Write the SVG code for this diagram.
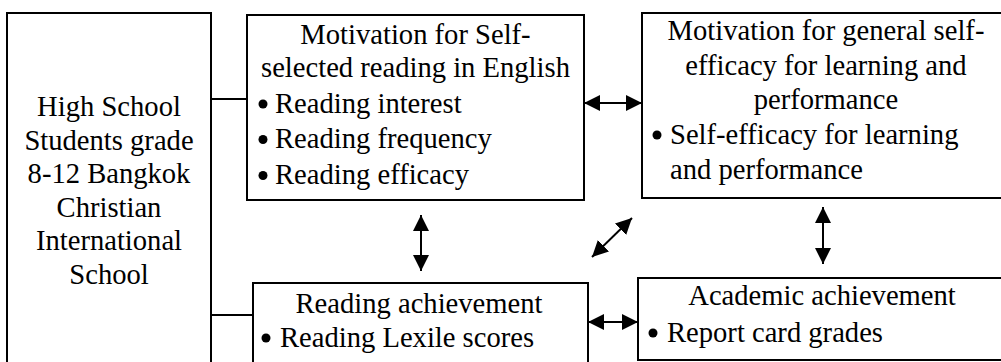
<svg xmlns="http://www.w3.org/2000/svg" width="1001" height="362" viewBox="0 0 1001 362">
<defs>
  <marker id="ah" markerUnits="userSpaceOnUse" markerWidth="18" markerHeight="18" refX="16" refY="9" orient="auto-start-reverse" viewBox="0 0 18 18">
    <path d="M0,1 L16,9 L0,17 z" fill="#000"/>
  </marker>
</defs>
<rect width="1001" height="362" fill="#fff"/>

<g id="connectors" stroke="#000" stroke-width="2" fill="none">
  <line x1="211" y1="99" x2="247" y2="99"/>
  <line x1="211" y1="315" x2="253" y2="315"/>
  <line x1="584" y1="103" x2="642" y2="103" marker-start="url(#ah)" marker-end="url(#ah)"/>
  <line x1="421" y1="215" x2="421" y2="271" marker-start="url(#ah)" marker-end="url(#ah)"/>
  <line x1="592" y1="257" x2="632" y2="218" marker-start="url(#ah)" marker-end="url(#ah)"/>
  <line x1="823" y1="207" x2="823" y2="264" marker-start="url(#ah)" marker-end="url(#ah)"/>
  <line x1="588" y1="322" x2="638" y2="322" marker-start="url(#ah)" marker-end="url(#ah)"/>
</g>

<g id="students">
  <rect x="7" y="13" width="204" height="360" fill="#fff" stroke="#000" stroke-width="2"/>
  <text font-family="Liberation Serif" font-size="28.6" text-anchor="middle" x="109" y="116">High School</text>
  <text font-family="Liberation Serif" font-size="28.6" text-anchor="middle" x="109" y="149.5">Students grade</text>
  <text font-family="Liberation Serif" font-size="28.6" text-anchor="middle" x="109" y="183">8-12 Bangkok</text>
  <text font-family="Liberation Serif" font-size="28.6" text-anchor="middle" x="109" y="216.5">Christian</text>
  <text font-family="Liberation Serif" font-size="28.6" text-anchor="middle" x="109" y="250">International</text>
  <text font-family="Liberation Serif" font-size="28.6" text-anchor="middle" x="109" y="283.5">School</text>
</g>

<g id="reading-motivation">
  <rect x="247" y="15" width="337" height="185" fill="#fff" stroke="#000" stroke-width="2"/>
  <text font-family="Liberation Serif" font-size="28.6" text-anchor="middle" x="415.5" y="43.5">Motivation for Self-</text>
  <text font-family="Liberation Serif" font-size="28.6" text-anchor="middle" x="415.5" y="76.7">selected reading in English</text>
  <circle cx="263" cy="104" r="4.5" fill="#000"/>
  <text font-family="Liberation Serif" font-size="28.6" x="275" y="112.5">Reading interest</text>
  <circle cx="263" cy="139.5" r="4.5" fill="#000"/>
  <text font-family="Liberation Serif" font-size="28.6" x="275" y="148">Reading frequency</text>
  <circle cx="263" cy="175.5" r="4.5" fill="#000"/>
  <text font-family="Liberation Serif" font-size="28.6" x="275" y="184">Reading efficacy</text>
</g>

<g id="general-motivation">
  <rect x="642" y="13" width="360" height="185" fill="#fff" stroke="#000" stroke-width="2"/>
  <text font-family="Liberation Serif" font-size="28.6" text-anchor="middle" x="826" y="40">Motivation for general self-</text>
  <text font-family="Liberation Serif" font-size="28.6" text-anchor="middle" x="826" y="75">efficacy for learning and</text>
  <text font-family="Liberation Serif" font-size="28.6" text-anchor="middle" x="826" y="108.5">performance</text>
  <circle cx="657" cy="135" r="4.5" fill="#000"/>
  <text font-family="Liberation Serif" font-size="28.6" x="670" y="143.5">Self-efficacy for learning</text>
  <text font-family="Liberation Serif" font-size="28.6" x="670" y="178.5">and performance</text>
</g>

<g id="reading-achievement">
  <rect x="253" y="283" width="335" height="90" fill="#fff" stroke="#000" stroke-width="2"/>
  <text font-family="Liberation Serif" font-size="28.6" text-anchor="middle" x="419" y="312.5">Reading achievement</text>
  <circle cx="266" cy="338" r="4.5" fill="#000"/>
  <text font-family="Liberation Serif" font-size="28.6" x="280" y="346.5">Reading Lexile scores</text>
</g>

<g id="academic-achievement">
  <rect x="638" y="278" width="364" height="82" fill="#fff" stroke="#000" stroke-width="2"/>
  <text font-family="Liberation Serif" font-size="28.6" text-anchor="middle" x="822" y="305">Academic achievement</text>
  <circle cx="653" cy="333" r="4.5" fill="#000"/>
  <text font-family="Liberation Serif" font-size="28.6" x="667" y="341.5">Report card grades</text>
</g>
</svg>
